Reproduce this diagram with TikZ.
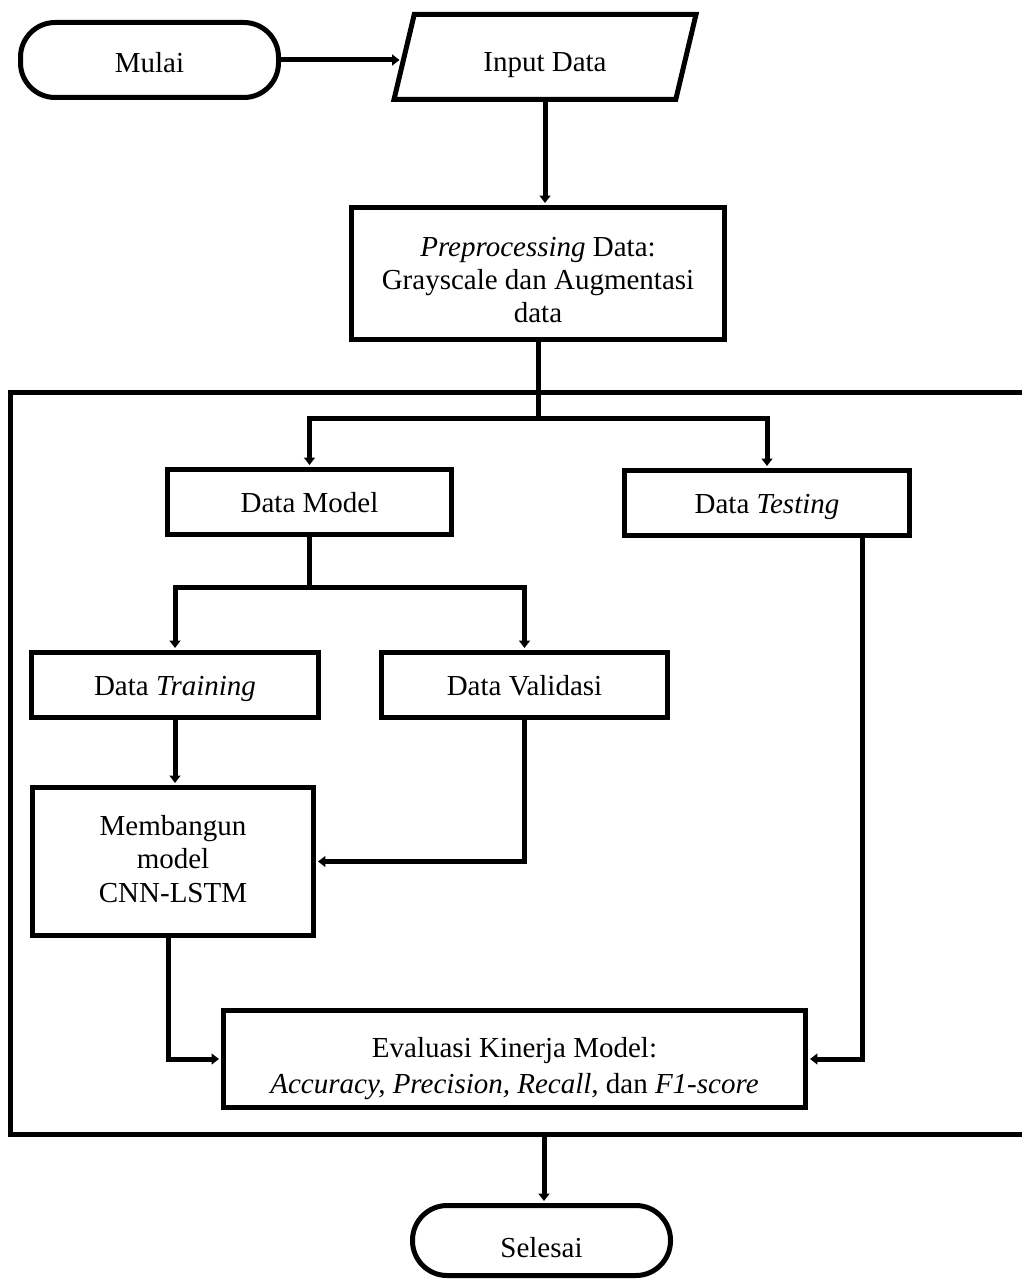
\documentclass[tikz,border=0pt]{standalone}
\usepackage{fontspec}
\setmainfont{Liberation Serif}
\usetikzlibrary{arrows.meta,shapes.geometric}
\begin{document}
\begin{tikzpicture}[x=0.75pt,y=-0.75pt,
  every node/.style={font=\fontsize{21.75}{25.5}\selectfont, align=center, inner sep=0pt},
  one/.style={text height=15pt, text depth=0pt},
  box/.style={draw, line width=3.75pt, rectangle},
  term/.style={draw, line width=3.75pt, rectangle, rounded corners=26pt},
  conn/.style={line width=3.75pt},
  arr/.style={line width=3.75pt, -{Triangle[width=8pt,length=5.5pt]}, shorten >=1.5pt},
]
\useasboundingbox (0,0) rectangle (1021,1280);

% nodes
\node[term, text height=19.5pt, text depth=0pt, minimum width=193.5pt, minimum height=56.25pt] (mulai) at (149.5,60) {Mulai};
\node[draw, line width=3.75pt, trapezium, trapezium left angle=56, trapezium right angle=124,
      trapezium stretches body, text height=22.5pt, text depth=0pt, minimum width=226.5pt, minimum height=63.75pt] (in) at (545,57) {Input Data};
\node[box, font=\fontsize{21.75}{24.5}\selectfont, text height=72.75pt, text depth=0pt,
      minimum width=279.75pt, minimum height=99pt] (pre) at (538,273.5)
  {\textit{Preprocessing} Data:\\Grayscale dan Augmentasi\\data};
\node[box, one, minimum width=213pt, minimum height=48.75pt] (dm) at (309.5,502) {Data Model};
\node[box, one, minimum width=213.75pt, minimum height=48.75pt] (dt) at (767,503) {Data \textit{Testing}};
\node[box, one, minimum width=215.25pt, minimum height=48.75pt] (tr) at (175,685) {Data \textit{Training}};
\node[box, one, minimum width=214.5pt, minimum height=48.75pt] (va) at (524.5,685) {Data Validasi};
\node[box, font=\fontsize{21.75}{25}\selectfont, text height=60.75pt, text depth=0pt,
      minimum width=210.75pt, minimum height=111pt] (mb) at (173,861.5)
  {Membangun\\model\\CNN-LSTM};
\node[box, text height=51pt, text depth=0pt, minimum width=436.5pt, minimum height=72.75pt] (ev) at (514.5,1059)
  {Evaluasi Kinerja Model:\\[1pt]\textit{Accuracy, Precision, Recall,} dan \textit{F1-score}};
\node[term, text height=25pt, text depth=0pt, minimum width=193.5pt, minimum height=52.5pt] (se) at (541.5,1240.5) {Selesai};

% frame (open on the right)
\draw[conn] (1030,392) -- (10,392) -- (10,1134) -- (1030,1134);

% coordinates
\coordinate (b1) at (538,418);
\coordinate (b2) at (309.5,587);
\coordinate (fb) at (544,1134);

% connectors
\draw[arr] (mulai.east) -- (in.west |- mulai.east);
\draw[arr] (in.south) -- (in.south |- pre.north);
\draw[conn] (pre.south) -- (b1);
\draw[arr] (b1) -| (dm.north);
\draw[arr] (b1) -| (dt.north);
\draw[conn] (dm.south) -- (b2);
\draw[arr] (b2) -| (tr.north);
\draw[arr] (b2) -| (va.north);
\draw[arr] (tr.south) -- (tr.south |- mb.north);
\draw[arr] (va.south) |- (mb.east);
\draw[arr] ([xshift=-3.75pt]mb.south) |- (ev.west);
\draw[arr] ([xshift=71.25pt]dt.south) |- (ev.east);
\draw[arr] (fb) -- (fb |- se.north);
\end{tikzpicture}
\end{document}
